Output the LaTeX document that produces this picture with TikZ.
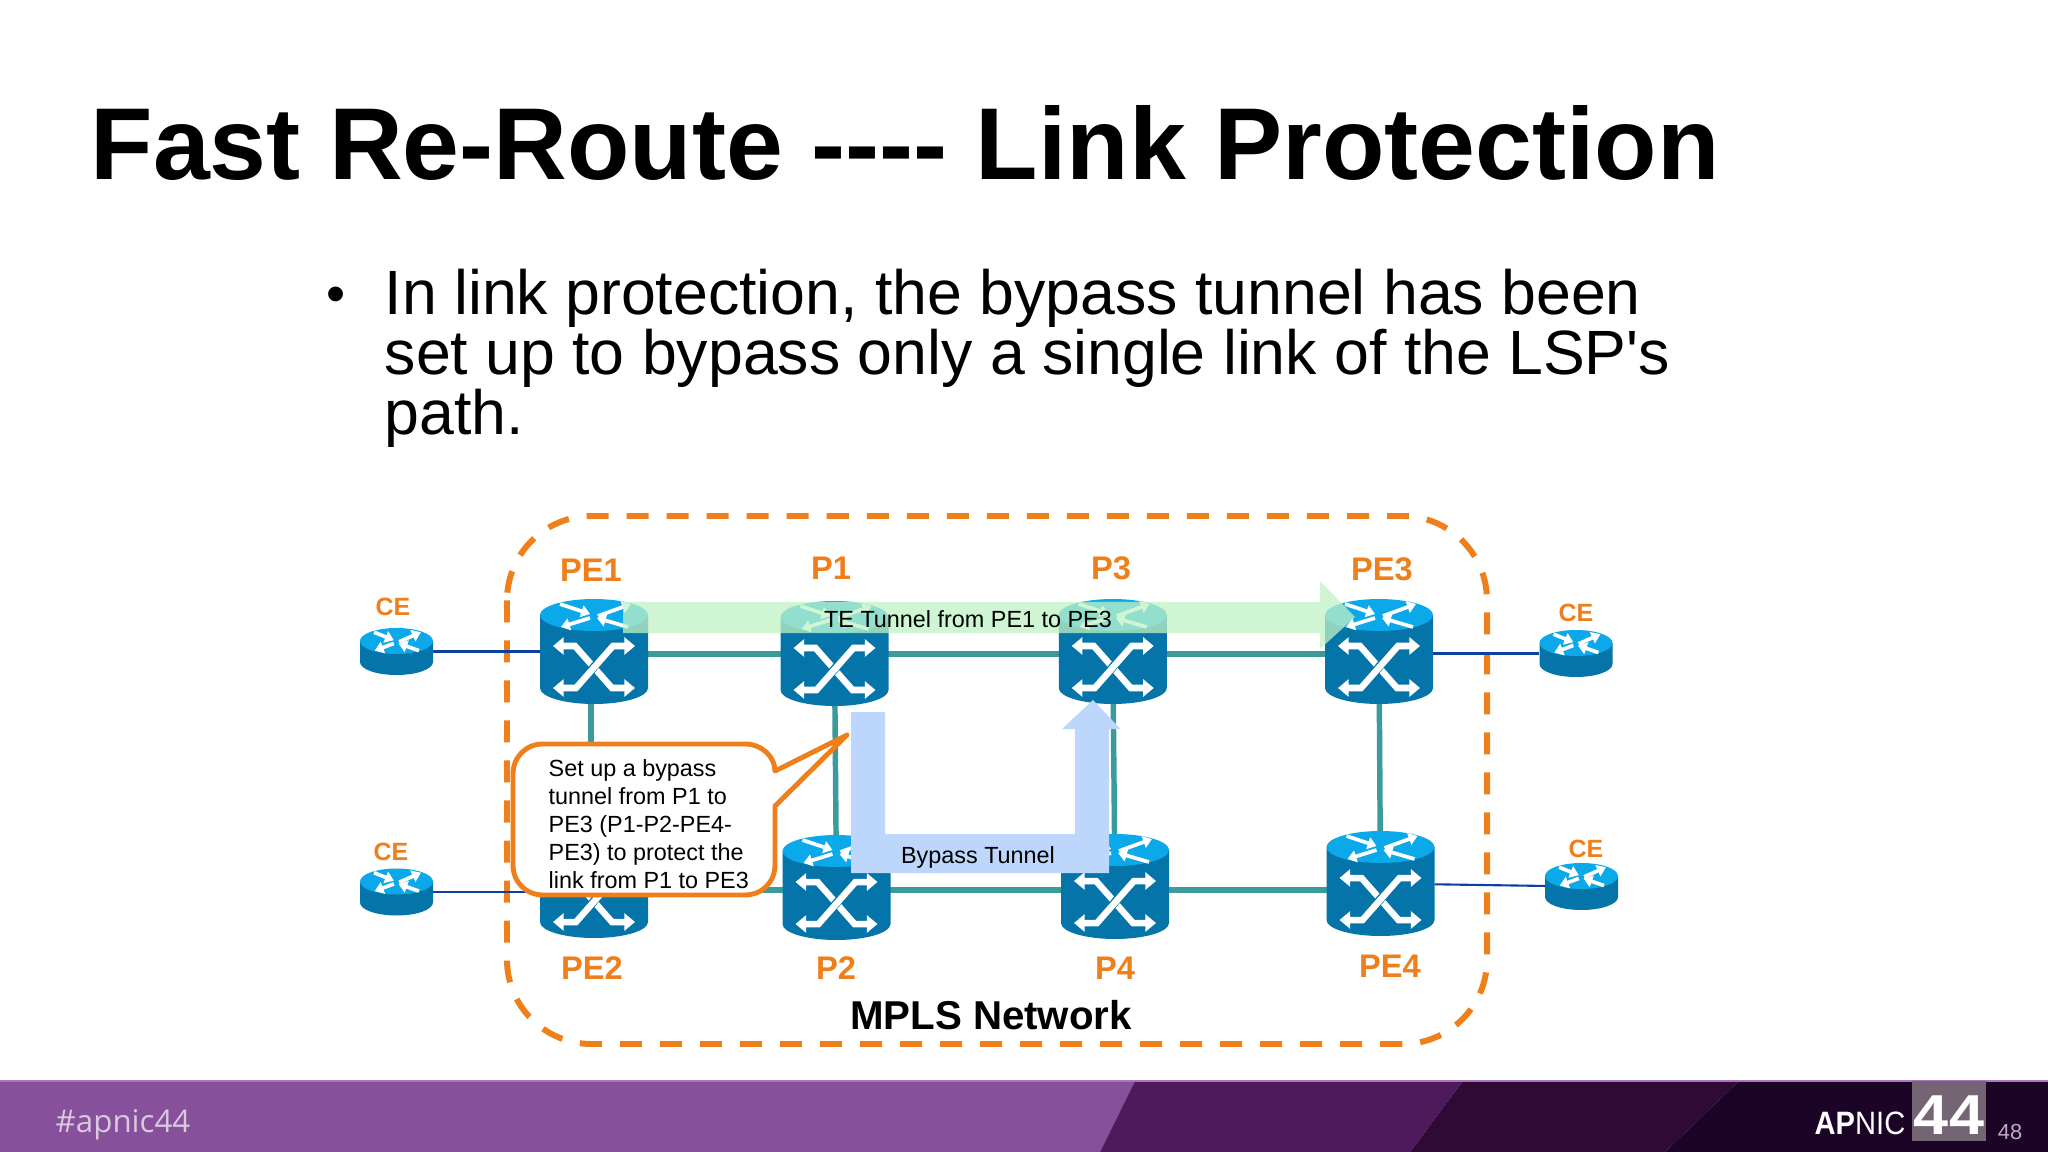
\documentclass[tikz,border=0pt]{standalone}
\usepackage{fontspec}
\setmainfont{Liberation Sans}
\newfontfamily\tagfont{Open Sans}
\newfontfamily\plainfont{Liberation Sans}
\usetikzlibrary{arrows.meta}

\definecolor{apnicorange}{HTML}{EE7F1A}
\definecolor{swtop}{HTML}{0BA9EA}
\definecolor{swbody}{HTML}{0574A8}
\definecolor{linkteal}{HTML}{3A9A9C}
\definecolor{linkblue}{HTML}{0B3FA0}
\definecolor{bypassblue}{HTML}{BCD7FB}
\definecolor{tegreen}{HTML}{C0F2C4}

\newcommand{\topglyph}{
  \draw[glyph] (-34, -11) -- (-4, -1);
  \draw[glyph] (4, 1) -- (37, -11);
  \draw[glyph] (34, 12) -- (3, 3);
  \draw[glyph] (-4, 3) -- (-33, 12);
}

\tikzset{
  swnode/.style={minimum width=1.08cm, minimum height=1.05cm, inner sep=0, outer sep=0},
  cenode/.style={minimum width=0.73cm, minimum height=0.47cm, inner sep=0, outer sep=0},
  glyph/.style={white, line width=1.05pt, -{Triangle[width=3.4pt, length=2.5pt]}},
  xglyph/.style={white, line width=1.85pt, {Triangle[width=4.8pt, length=3pt]}-{Triangle[width=4.8pt, length=3pt]}},
  corelink/.style={linkteal, line width=1.55pt},
  celink/.style={linkblue, line width=0.6pt},
  orangelabel/.style={apnicorange, font=\fontsize{9.3}{10}\selectfont\bfseries},
  celabel/.style={apnicorange, font=\fontsize{7.1}{8}\selectfont\bfseries},
  smalltext/.style={black, font=\fontsize{6.65}{7.97}\selectfont, inner sep=0},
  pics/swpic/.style={code={
    \fill[swbody] (-54, -36.5) -- (-54, 36.5)
      .. controls (-54, 45.3) and (-29.8, 52.5) .. (0, 52.5)
      .. controls (29.8, 52.5) and (54, 45.3) .. (54, 36.5) -- (54, -36.5) -- cycle;
    \fill[swtop] (0, -36.5) ellipse [x radius=54, y radius=16];
    \begin{scope}[shift={(0, -36.5)}]
      \topglyph
    \end{scope}
    \draw[xglyph] (-41, -5.5) -- (-19, -5.5) -- (18, 36.5) -- (41, 36.5);
    \draw[swbody, line width=2.4pt] (12, 1) -- (-12, 30);
    \draw[xglyph] (41, -5.5) -- (19, -5.5) -- (-18, 36.5) -- (-41, 36.5);
  }},
  pics/cepic/.style={code={
    \fill[swbody] (-36.5, -10.5) -- (-36.5, 10.5)
      .. controls (-36.5, 17.7) and (-20.2, 23.5) .. (0, 23.5)
      .. controls (20.2, 23.5) and (36.5, 17.7) .. (36.5, 10.5) -- (36.5, -10.5) -- cycle;
    \fill[swtop] (0, -10.5) ellipse [x radius=36.5, y radius=13];
    \begin{scope}[shift={(0, -10.5)}, xscale=0.66, yscale=0.8]
      \topglyph
    \end{scope}
  }}
}

\begin{document}
\begin{tikzpicture}[x=0.01cm, y=-0.01cm]
\useasboundingbox (0, 0) rectangle (2048, 1152);

\node[anchor=base west, inner sep=0, font=\fontsize{29.05}{30}\selectfont\bfseries] (title) at (90, 180)
  {Fast Re-Route -{}-{}-{}- Link Protection};
\node[anchor=base, inner sep=0, font=\fontsize{15.5}{17.07}\selectfont] (bullet) at (336, 313) {•};
\node[anchor=north west, inner sep=0, align=left, font=\fontsize{17.8}{17.07}\selectfont] (bodytext) at (384, 268.5)
  {In link protection, the bypass tunnel has been\\
   set up to bypass only a single link of the LSP{\plainfont '}s\\
   path.};

% footer band
\fill[fill={rgb,255:red,135;green,80;blue,154}] (0, 1081) -- (1135, 1081) -- (1100, 1152) -- (0, 1152) -- cycle;
\fill[fill={rgb,255:red,79;green,26;blue,92}] (1135, 1081) -- (1463, 1081) -- (1410, 1152) -- (1100, 1152) -- cycle;
\fill[fill={rgb,255:red,46;green,10;blue,53}] (1463, 1081) -- (1739, 1081) -- (1665, 1152) -- (1410, 1152) -- cycle;
\fill[fill={rgb,255:red,28;green,4;blue,38}] (1739, 1081) -- (2048, 1081) -- (2048, 1152) -- (1665, 1152) -- cycle;
\draw[line width=0.3pt, color={rgb,255:red,170;green,120;blue,185}] (0, 1081) -- (2048, 1081);
\fill[fill={rgb,255:red,115;green,101;blue,115}] (1912, 1081) rectangle (1986, 1141);
\node[white, inner sep=0, font=\fontsize{16}{17}\selectfont\bfseries] (logonum) at (1949, 1115) {\scalebox{1.12}[1]{44}};
\node[white, anchor=east, inner sep=0, font=\fontsize{9.2}{10}\selectfont] (logotext) at (1906, 1123)
  {\scalebox{0.9}[1]{\bfseries AP\mdseries NIC}};
\node[text={rgb,255:red,192;green,168;blue,200}, inner sep=0, font=\fontsize{6.2}{7}\selectfont] (pagenum) at (2010, 1132) {48};
\node[text={rgb,255:red,217;green,200;blue,224}, anchor=west, inner sep=0, font=\fontsize{8.9}{10}\tagfont] (hashtag) at (55, 1124.5) {\#apnic44};

% dashed frame
\draw[apnicorange, line width=1.7pt, rounded corners=24pt, dash pattern=on 6.26pt off 5.12pt]
  (507, 516) rectangle (1487, 1044);
\node[inner sep=0, font=\fontsize{11.45}{12}\selectfont\bfseries] (mpls) at (991, 1015) {MPLS Network};

\node[swnode] (PE1) at (594, 651.5) {};
\node[swnode] (P1) at (834.5, 653.5) {};
\node[swnode] (P3) at (1112.75, 651.5) {};
\node[swnode] (PE3) at (1379, 651.5) {};
\node[swnode] (PE2) at (594, 885.5) {};
\node[swnode] (P2) at (836.5, 887.5) {};
\node[swnode] (P4) at (1115, 886.5) {};
\node[swnode] (PE4) at (1380.5, 883.5) {};
\node[cenode] (CE1) at (396.5, 651.5) {};
\node[cenode] (CE2) at (396.5, 892) {};
\node[cenode] (CE3) at (1576, 653.5) {};
\node[cenode] (CE4) at (1581.5, 886.5) {};

\coordinate (toprow) at (0, 654);
\coordinate (botrow) at (0, 890);
\coordinate (leftcol) at (591, 0);

\draw[corelink] (PE1 |- toprow) -- (P1 |- toprow);
\draw[corelink] (P1 |- toprow) -- (P3 |- toprow);
\draw[corelink] (P3 |- toprow) -- (PE3 |- toprow);
\draw[corelink] (PE2 |- botrow) -- (P2 |- botrow);
\draw[corelink] (P2 |- botrow) -- (P4 |- botrow);
\draw[corelink] (P4 |- botrow) -- (PE4 |- botrow);
\draw[corelink] (leftcol |- PE1) -- (leftcol |- PE2);
\draw[corelink] (P1) -- (P2);
\draw[corelink] (P3) -- (P4);
\draw[corelink] (PE3) -- (PE4);
\draw[celink] (CE1) -- (PE1);
\draw[celink] (CE2) -- (PE2 |- CE2);
\draw[celink] (CE3) -- (PE3 |- CE3);
\draw[celink] (CE4) -- (PE4);

\foreach \nm in {PE1, P1, P3, PE3, PE2, P2, P4, PE4}
  \pic at (\nm) {swpic};
\foreach \nm in {CE1, CE2, CE3, CE4}
  \pic at (\nm) {cepic};

\node[orangelabel] (lblPE1) at (591, 570) {PE1};
\node[orangelabel] (lblP1) at (831, 568) {P1};
\node[orangelabel] (lblP3) at (1111, 568) {P3};
\node[orangelabel] (lblPE3) at (1382, 569) {PE3};
\node[orangelabel] (lblPE2) at (592, 968) {PE2};
\node[orangelabel] (lblP2) at (836, 968) {P2};
\node[orangelabel] (lblP4) at (1115, 968) {P4};
\node[orangelabel] (lblPE4) at (1390, 966) {PE4};
\node[celabel] (lblCE1) at (393, 607) {CE};
\node[celabel] (lblCE2) at (391, 852) {CE};
\node[celabel] (lblCE3) at (1576, 613) {CE};
\node[celabel] (lblCE4) at (1586, 849) {CE};

% tunnels
\fill[tegreen, opacity=0.75] (623, 602) -- (1320, 602) -- (1320, 581) -- (1355, 617)
  -- (1320, 649) -- (1320, 633) -- (623, 633) -- cycle;
\node[smalltext] (tetext) at (968, 619) {TE Tunnel from PE1 to PE3};

\fill[bypassblue] (851, 712) -- (885, 712) -- (885, 834) -- (1075, 834) -- (1075, 729)
  -- (1062, 729) -- (1093, 700) -- (1120.5, 729) -- (1109, 729) -- (1109, 873) -- (851, 873) -- cycle;
\node[smalltext] (bypasstext) at (978, 857.5) {Bypass Tunnel};

% callout
\draw[apnicorange, fill=white, line width=1.4pt, line join=round]
  (775, 771) -- (847, 735) -- (775, 806) -- (775, 865)
  .. controls (775, 882) and (762, 895) .. (745, 895) -- (543, 895)
  .. controls (526, 895) and (513, 882) .. (513, 865) -- (513, 774)
  .. controls (513, 757) and (526, 744) .. (543, 744) -- (745, 744)
  .. controls (762, 744) and (775, 757) .. (775, 771) -- cycle;
\node[smalltext, anchor=north west, align=left] (calltext) at (548, 758.5)
  {Set up a bypass\\ tunnel from P1 to\\ PE3 (P1-P2-PE4-\\ PE3) to protect the\\ link from P1 to PE3};

\end{tikzpicture}
\end{document}
